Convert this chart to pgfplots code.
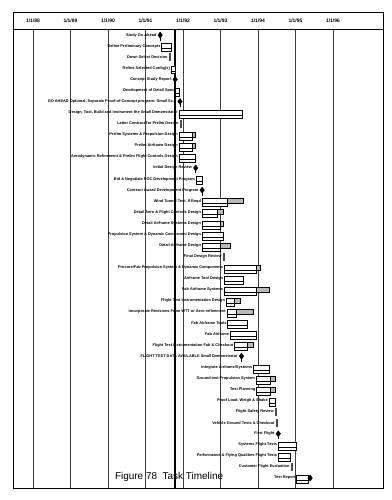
\documentclass[border=0pt]{standalone}
\usepackage{fontspec}
\setmainfont{Liberation Sans}
\usepackage{pgfplots}
\usepackage{pgfplotstable}
\pgfplotsset{compat=1.18}

% bars: row, start (year), main duration, slack (grey)
\pgfplotstableread{
row start dur slack
2 1991.43 0.27 0
4 1991.68 0.11 0
6 1991.80 0.11 0
8 1991.89 1.68 0
10 1991.89 0.35 0.08
11 1991.89 0.35 0.08
12 1991.89 0.43 0
14 1992.35 0.15 0
16 1992.51 0.67 0.43
17 1992.51 0.41 0.15
18 1992.51 0.49 0.07
19 1992.51 0.56 0
20 1992.51 0.49 0.25
22 1993.10 0.84 0.13
23 1993.10 0.51 0
24 1993.10 0.84 0.35
25 1993.15 0.22 0.15
26 1993.17 0.26 0.44
27 1993.19 0.51 0
28 1993.26 0.68 0
29 1993.37 0.34 0.16
31 1993.87 0.42 0
32 1993.95 0.37 0.13
33 1993.96 0.36 0.13
34 1994.29 0.16 0
38 1994.54 0.49 0
39 1994.54 0.33 0
41 1995.03 0.31 0
}\tbars

% milestones
\pgfplotstableread{
row x
1 1991.39
5 1991.79
7 1991.92
13 1992.34
15 1992.51
30 1993.56
37 1994.54
}\tmiles

\pgfplotstableread{
row x
41 1995.39
}\tend

% short tasks
\pgfplotstableread{
row x
3 1991.65
9 1991.94
21 1993.09
35 1994.48
36 1994.50
40 1994.90
}\tthin

\pgfplotstableread[col sep=semicolon]{
row;lx;label
1;1991.32;Study Go Ahead
2;1991.43;Define Preliminary Concepts
3;1991.62;Down Select Decision
4;1991.68;Refine Selected Config(s)
5;1991.72;Concept Study Report
6;1991.80;Development of Detail Spec
7;1991.85;GO AHEAD Optional, Separate Proof-of-Concept program:  Small Sc...
8;1991.89;Design, Tool, Build and Instrument the Small Demonstrator
9;1991.91;Letter Contract for Prelim Design
10;1991.89;Prelim Systems \& Propulsion Design
11;1991.89;Prelim  Airframe Design
12;1991.89;Aerodynamic Refinement \& Prelim Flight Controls Design
13;1992.27;Initial Design Review
14;1992.35;Bid \& Negotiate POC Development Program
15;1992.44;Contract Award  Development Program
16;1992.51;Wind Tunnel Test, If Reqd
17;1992.51;Detail Aero \& Flight Controls Design
18;1992.51;Detail Airframe Systems Design
19;1992.51;Propulsion System \& Dynamic Component Design
20;1992.51;Detail Airframe Design
21;1993.06;Final Design Review
22;1993.10;Procure/Fab Propulsion System \& Dynamic Components
23;1993.10;Airframe Tool Design
24;1993.10;Fab Airframe Systems
25;1993.15;Flight Test Instrumentation Design
26;1993.17;Incorporate Revisions From WTT or Aero refinement
27;1993.19;Fab Airframe Tools
28;1993.26;Fab Airframe
29;1993.37;Flight Test Instrumentation Fab \& Checkout
30;1993.49;FLIGHT TEST DATA AVAILABLE Small Demonstrator
31;1993.87;Integrate  Airframe/Systems
32;1993.95;Ground test Propulsion System
33;1993.96;Test Planning
34;1994.29;Proof Load, Weigh \& Shake
35;1994.45;Flight Safety Review
36;1994.47;Vehicle Ground Tests \& Checkout
37;1994.47;First Flight
38;1994.54;Systems Flight Tests
39;1994.54;Performance \& Flying Qualities Flight Tests
40;1994.87;Customer Flight Evaluation
41;1995.03;Test Report
}\tlabels

\pgfplotstableread{
x y
1988 0.457
1988 41.9
nan nan
1989 0.457
1989 41.9
nan nan
1990 0.457
1990 41.9
nan nan
1991 0.457
1991 41.9
nan nan
1992 0.457
1992 41.9
nan nan
1993 0.457
1993 41.9
nan nan
1994 0.457
1994 41.9
nan nan
1995 0.457
1995 41.9
nan nan
1996 0.457
1996 41.9
}\tgrid

\pgfplotsset{gantt/.style={
  at={(13bp,12bp)}, anchor=south west, scale only axis,
  width=370bp, height=476bp,
  xmin=1987.467, xmax=1997.333, ymin=-1.08, ymax=41.9, y dir=reverse,
  ytick=\empty,
}}

\begin{document}
\begin{tikzpicture}
\path (0,0) rectangle (392bp,500bp);

% frame, grid, labels
\begin{axis}[gantt,
  axis line style={line width=0.8bp},
  xtick={1988,...,1996},
  xticklabels={1/1/88,1/1/89,1/1/90,1/1/91,1/1/92,1/1/93,1/1/94,1/1/95,1/1/96},
  xticklabel pos=upper, major tick length=0pt,
  xticklabel style={anchor=center, yshift=-9bp, font=\fontsize{5}{6}\selectfont\bfseries},
  unbounded coords=jump]
\addplot[black!75, line width=0.5bp] table[x=x,y=y]{\tgrid};
\addplot[black, line width=0.7bp] coordinates {(1987.467,0.457) (1997.333,0.457)};
\addplot[black, line width=1.4bp] coordinates {(1991.787,0.457) (1991.787,41.9)};
\addplot[only marks, mark=*, mark size=0pt,
  nodes near coords, point meta=explicit symbolic,
  nodes near coords align={anchor=east},
  every node near coord/.append style={font=\fontsize{3.9}{4.5}\selectfont\bfseries, inner sep=1bp}]
  table[x=lx, y=row, meta=label]{\tlabels};
\end{axis}

% main bars
\begin{axis}[gantt, hide axis, xbar stacked, bar width=0.45]
\addplot[draw=none, fill=none] table[x=start, y=row]{\tbars};
\addplot[draw=black, fill=white, line width=0.5bp] table[x=dur, y=row]{\tbars};
\addplot[draw=black, fill=gray!55, line width=0.5bp] table[x=slack, y=row]{\tbars};
\end{axis}

% baseline bars
\begin{axis}[gantt, hide axis, xbar stacked, bar width=0.27, bar shift=0.36]
\addplot[draw=none, fill=none] table[x=start, y=row]{\tbars};
\addplot[draw=black, fill=white, line width=0.5bp] table[x=dur, y=row]{\tbars};
\end{axis}

% milestones, short tasks, title
\begin{axis}[gantt, hide axis]
\addplot[only marks, mark=|, mark size=2bp, line width=0.8bp, black,
  mark options={yshift=-3.5bp}] table[x=x, y=row]{\tmiles};
\addplot[only marks, mark=diamond*, mark size=3bp, black] table[x=x, y=row]{\tmiles};
\addplot[only marks, mark=diamond*, mark size=3bp, black] table[x=x, y=row]{\tend};
\addplot[only marks, mark=|, mark size=4bp, line width=1.8bp, black!70] table[x=x, y=row]{\tthin};
\node[font=\fontsize{10}{12}\selectfont, anchor=center] at (axis cs:1991.63,40.9) {Figure 78\ \ Task Timeline};
\end{axis}
\end{tikzpicture}
\end{document}
